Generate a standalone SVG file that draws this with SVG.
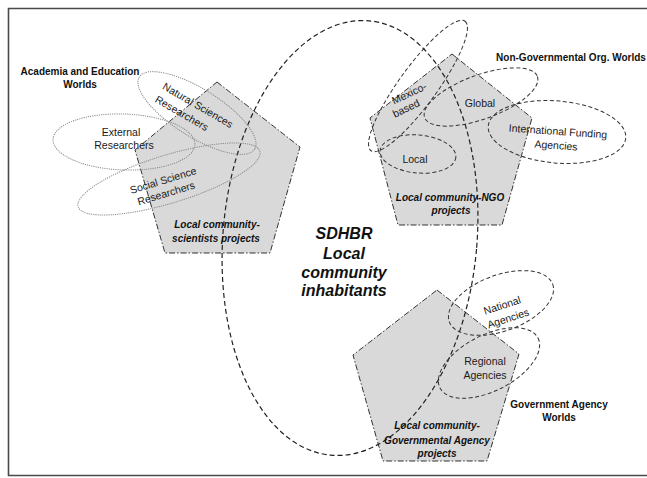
<svg xmlns="http://www.w3.org/2000/svg" width="647" height="478" viewBox="0 0 647 478">
<defs>
<style>
.frame{fill:none;stroke:#4a4a4a;stroke-width:1.6}
.pent{fill:#d9d9d9;stroke:#333;stroke-width:1;stroke-dasharray:6 2 1.5 2}
.big{fill:none;stroke:#222;stroke-width:1.2;stroke-dasharray:5 3}
.dot{fill:none;stroke:#8a8a8a;stroke-width:1;stroke-dasharray:1.2 1}
.dash{fill:none;stroke:#333;stroke-width:1;stroke-dasharray:4 2.5}
text{font-family:"Liberation Sans",Arial,sans-serif;fill:#111;dominant-baseline:central}
.lbl{font-size:10px;font-weight:bold;text-anchor:middle}
.pl{font-size:10px;font-weight:bold;font-style:italic;text-anchor:middle}
.w{font-size:10.5px;text-anchor:middle;fill:#1a1a1a}
.core{font-size:16px;font-weight:bold;font-style:italic;text-anchor:middle}
</style>
</defs>
<rect width="647" height="478" fill="#fff"/>
<path class="frame" d="M647,8.5 H8.5 V475.5 H647"/>

<g id="scientists-projects">
<polygon class="pent" points="217,82 300,147 270,253 165,253 135,150"/>
</g>
<g id="ngo-projects">
<polygon class="pent" points="452,54 532,118 502,225 398,225 370,118"/>
</g>
<g id="gov-projects">
<polygon class="pent" points="437,290 519,354 487,461 383,461 353,355"/>
</g>

<g id="local-community">
<ellipse class="big" cx="350" cy="238" rx="127" ry="218" transform="rotate(5 350 238)"/>
</g>

<g id="academia-worlds">
<ellipse class="dot" cx="197" cy="113" rx="68" ry="24" transform="rotate(32 197 113)"/>
<ellipse class="dot" cx="124" cy="142" rx="71" ry="28" transform="rotate(2 124 142)"/>
<ellipse class="dot" cx="169" cy="179" rx="95" ry="24" transform="rotate(-17 169 179)"/>
<text class="lbl" x="80" y="71">Academia and Education</text>
<text class="lbl" x="80" y="84">Worlds</text>
<text class="w" transform="translate(198,105) rotate(30)">Natural Sciences</text>
<text class="w" transform="translate(182,113) rotate(30)">Researchers</text>
<text class="w" x="121" y="132">External</text>
<text class="w" x="124" y="145">Researchers</text>
<text class="w" transform="translate(163,180) rotate(-17)">Social Science</text>
<text class="w" transform="translate(166,193) rotate(-17)">Researchers</text>
</g>

<g id="ngo-worlds">
<ellipse class="dash" cx="418" cy="86" rx="80" ry="19" transform="rotate(-54 418 86)"/>
<ellipse class="dash" cx="481" cy="97" rx="60" ry="22" transform="rotate(-20 481 97)"/>
<ellipse class="dash" cx="418" cy="154" rx="38" ry="19" transform="rotate(5 418 154)"/>
<ellipse class="dash" cx="557" cy="132" rx="69" ry="31" transform="rotate(5 557 132)"/>
<text class="lbl" x="571" y="57">Non-Governmental Org. Worlds</text>
<text class="w" transform="translate(409,93) rotate(-25)">Mexico-</text>
<text class="w" transform="translate(406,108) rotate(-25)">based</text>
<text class="w" x="480" y="103">Global</text>
<text class="w" x="415" y="159">Local</text>
<text class="w" transform="translate(558,131) rotate(4)">International Funding</text>
<text class="w" transform="translate(556,145) rotate(4)">Agencies</text>
</g>

<g id="gov-worlds">
<ellipse class="dash" cx="501" cy="303" rx="55" ry="28" transform="rotate(-20 501 303)"/>
<ellipse class="dash" cx="489" cy="363" rx="55" ry="28" transform="rotate(-27 489 363)"/>
<text class="lbl" x="559" y="404">Government Agency</text>
<text class="lbl" x="559" y="417">Worlds</text>
<text class="w" transform="translate(502,305) rotate(-18)">National</text>
<text class="w" transform="translate(508,318) rotate(-18)">Agencies</text>
<text class="w" x="485" y="361">Regional</text>
<text class="w" x="485" y="375">Agencies</text>
</g>

<g id="project-labels">
<text class="pl" x="217" y="224">Local community-</text>
<text class="pl" x="216" y="238">scientists projects</text>
<text class="pl" x="450" y="197">Local community-NGO</text>
<text class="pl" x="451" y="210">projects</text>
<text class="pl" x="437" y="425">Local community-</text>
<text class="pl" x="437" y="440">Governmental Agency</text>
<text class="pl" x="437" y="453">projects</text>
</g>

<g id="core-label">
<text class="core" x="344" y="233">SDHBR</text>
<text class="core" x="344" y="253">Local</text>
<text class="core" x="344" y="272">community</text>
<text class="core" x="344" y="290">inhabitants</text>
</g>
</svg>
